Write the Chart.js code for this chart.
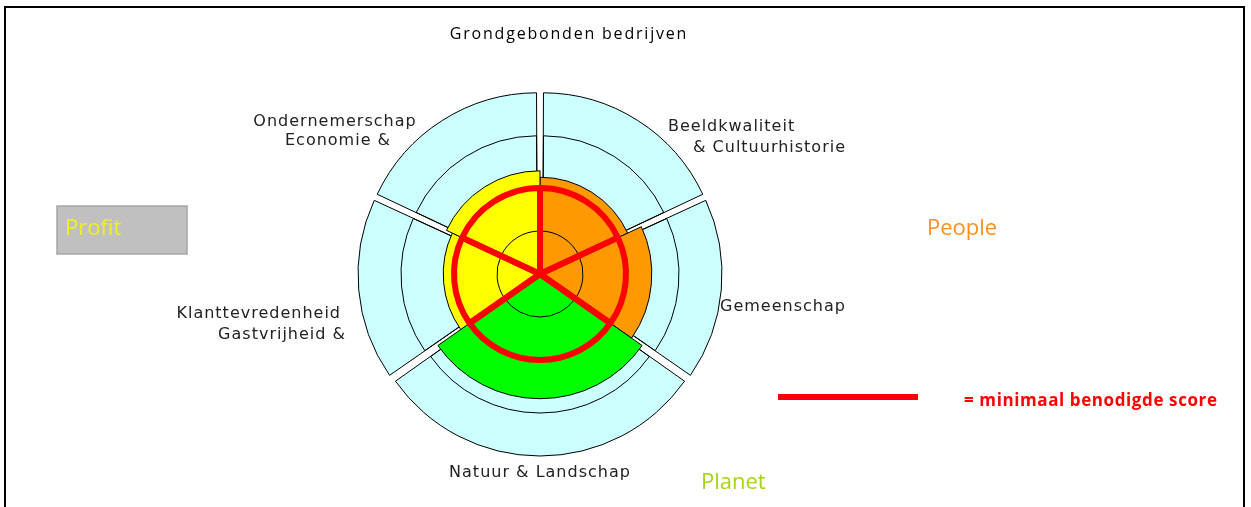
<!DOCTYPE html>
<html>
<head>
<meta charset="utf-8">
<script src="https://cdn.jsdelivr.net/npm/chart.js@4.4.0/dist/chart.umd.min.js"></script>
<style>
  html, body { margin: 0; padding: 0; background: #fff; }
  .chart_container { position: relative; width: 1251px; height: 507px; }
</style>
</head>
<body>
<div class="chart_container"><canvas class="score_chart"></canvas></div>
<script>
// clockwise from the top
const categories = ["Beeldkwaliteit & Cultuurhistorie", "Gemeenschap", "Natuur & Landschap", "Gastvrijheid & Klanttevredenheid", "Economie & Ondernemerschap"];
const scores = [2.25, 2.6, 2.9, 2.25, 2.4];
const minimumScores = [2, 2, 2, 2, 2];
const maxScores = [4, 4, 4, 4, 4];
const ringTicks = [1, 3];
const scoreColors = ["#FF9900", "#FF9900", "#00FF00", "#FFFF00", "#FFFF00"];

// the wedges are not all the same width in the original
const wedgeAngles = [65, 60, 110, 60, 65];

const labels = [
    { text: "Grondgebonden bedrijven", x: 569, y: 34, align: "center", font: "16px 'Open Sans'", color: "#000", spacing: "1.8px" },
    { text: "Beeldkwaliteit", x: 668, y: 127, align: "left" },
    { text: "& Cultuurhistorie", x: 693, y: 148, align: "left" },
    { text: "Gemeenschap", x: 720, y: 307, align: "left" },
    { text: "Natuur & Landschap", x: 540, y: 473, align: "center" },
    { text: "Klanttevredenheid", x: 341, y: 314, align: "right" },
    { text: "Gastvrijheid &", x: 346, y: 335, align: "right" },
    { text: "Ondernemerschap", x: 335, y: 122, align: "center" },
    { text: "Economie &", x: 338, y: 141, align: "center" },
    { text: "People", x: 927, y: 229, align: "left", font: "22px 'Open Sans'", color: "#FF8F1F", spacing: "0px" },
    { text: "Planet", x: 701, y: 483, align: "left", font: "22px 'Open Sans'", color: "#A5D611", spacing: "0px" },
    { text: "= minimaal benodigde score", x: 964, y: 401, align: "left", font: "bold 17px 'Open Sans'", color: "#FF0000", spacing: "0.6px" }
];

const extras = {
    id: "extras",
    beforeDraw(chart) {
        let ctx = chart.ctx;
        ctx.save();
        // frame round the picture
        ctx.strokeStyle = "#000";
        ctx.lineWidth = 2;
        ctx.beginPath();
        ctx.moveTo(5, 507);
        ctx.lineTo(5, 7);
        ctx.lineTo(1244, 7);
        ctx.lineTo(1244, 507);
        ctx.stroke();

        // Profit box
        ctx.fillStyle = "#C0C0C0";
        ctx.fillRect(57, 206, 130, 48);
        ctx.strokeStyle = "#A6A6A6";
        ctx.lineWidth = 1.5;
        ctx.strokeRect(57, 206, 130, 48);
        ctx.fillStyle = "#F0F216";
        ctx.font = "22px 'Open Sans'";
        ctx.textAlign = "left";
        ctx.textBaseline = "middle";
        ctx.fillText("Profit", 65, 229);
        ctx.restore();
    },
    afterDraw(chart) {
        let ctx = chart.ctx;
        ctx.save();
        ctx.textBaseline = "middle";
        labels.forEach(l => {
            ctx.font = l.font || "16px 'DejaVu Sans'";
            ctx.fillStyle = l.color || "#222";
            ctx.letterSpacing = l.spacing || "1px";
            ctx.textAlign = l.align;
            ctx.fillText(l.text, l.x, l.y);
        });

        // legend sample for the red line
        ctx.strokeStyle = "#FF0000";
        ctx.lineWidth = 6;
        ctx.beginPath();
        ctx.moveTo(778, 397);
        ctx.lineTo(918, 397);
        ctx.stroke();
        ctx.restore();
    }
};

const ring = (v) => categories.map(() => v);

const CHART = document.querySelector(".score_chart");
let scoreChart = new Chart(CHART, {
    type: "polarArea",
    data: {
        labels: categories,
        datasets: [
            {
                label: "minimaal benodigde score",
                data: minimumScores,
                backgroundColor: "rgba(0,0,0,0)",
                borderColor: "#FF0000",
                borderWidth: 6,
                borderJoinStyle: "round",
                angle: wedgeAngles,
                order: 1
            },
            {
                label: "ring 1",
                data: ring(ringTicks[0]),
                backgroundColor: "rgba(0,0,0,0)",
                borderColor: "#000",
                borderWidth: 1,
                angle: wedgeAngles,
                order: 2
            },
            {
                label: "score",
                data: scores,
                backgroundColor: scoreColors,
                borderColor: "#000",
                borderWidth: 1,
                angle: wedgeAngles,
                order: 3
            },
            {
                label: "ring 3",
                data: ring(ringTicks[1]),
                backgroundColor: "rgba(0,0,0,0)",
                borderColor: "#000",
                borderWidth: 1,
                offset: 20,
                angle: wedgeAngles,
                order: 4
            },
            {
                label: "max",
                data: maxScores,
                backgroundColor: "#CCFFFF",
                borderColor: "#000",
                borderWidth: 1,
                offset: 20,
                angle: wedgeAngles,
                order: 5
            }
        ]
    },
    options: {
        responsive: true,
        maintainAspectRatio: false,
        animation: false,
        events: [],
        layout: {
            padding: { left: 368, right: 539, top: 102, bottom: 61 }
        },
        plugins: {
            legend: { display: false },
            title: { display: false },
            tooltip: { enabled: false }
        },
        scales: {
            r: {
                min: 0,
                max: 4,
                ticks: { display: false, stepSize: 1 },
                grid: { display: false },
                angleLines: { display: false },
                pointLabels: { display: false }
            }
        }
    },
    plugins: [extras]
});
</script>
</body>
</html>
